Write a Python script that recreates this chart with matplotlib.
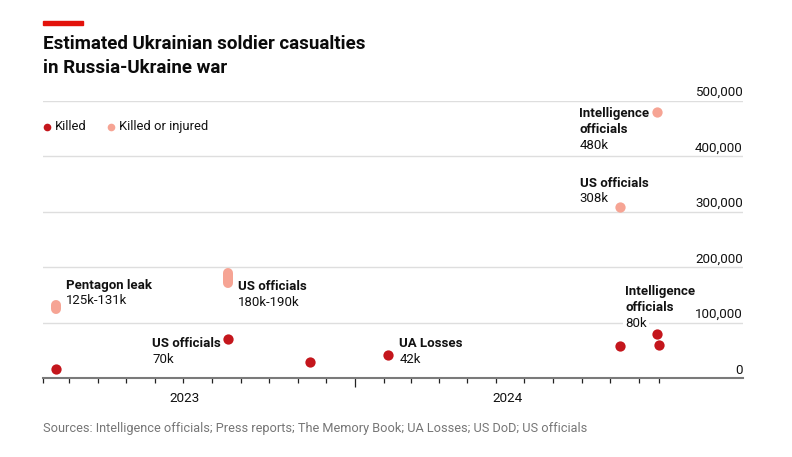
import datetime as dt
import matplotlib
matplotlib.use('Agg')
import matplotlib.pyplot as plt
from matplotlib.lines import Line2D
from matplotlib.patches import Rectangle

plt.rcParams['font.family'] = ['Roboto', 'DejaVu Sans']

#DATA-------------------------------------------------------------------------------
killed_dates = [dt.date(2023, 2, 15), dt.date(2023, 8, 18), dt.date(2023, 11, 14),
                dt.date(2024, 2, 6), dt.date(2024, 10, 11), dt.date(2024, 11, 20),
                dt.date(2024, 11, 22)]
killed_vals = [17000, 70000, 29000, 42000, 57000, 80000, 59000]

# killed or injured: ranges drawn as capsules, single values as dots
ki_range_dates = [dt.date(2023, 2, 15), dt.date(2023, 8, 18)]
ki_range_low = [125000, 171000]
ki_range_high = [131000, 189000]
ki_dates = [dt.date(2024, 10, 11), dt.date(2024, 11, 20)]
ki_vals = [308000, 480000]

y_ticks = [0, 100000, 200000, 300000, 400000, 500000]
year_labels = ['2023', '2024']
year_label_dates = [dt.date(2023, 7, 3), dt.date(2024, 6, 13)]
month_ticks = [dt.date(2023, m, 1) for m in range(2, 13)] + \
              [dt.date(2024, m, 1) for m in range(2, 12)] + [dt.date(2024, 11, 22)]
year_ticks = [dt.date(2024, 1, 1)]

# annotations: (date, value, bold lines, value text, dx px, dy px of first baseline)
notes = [
    (dt.date(2023, 2, 15), 131000, ['Pentagon leak'], '125k-131k', 9.6, 16.5),
    (dt.date(2023, 8, 18), 189000, ['US officials'], '180k-190k', 10, -16.8),
    (dt.date(2023, 8, 18), 70000, ['US officials'], '70k', -75.6, -8.3),
    (dt.date(2024, 2, 6), 42000, ['UA Losses'], '42k', 11.2, 7.3),
    (dt.date(2024, 11, 20), 80000, ['Intelligence', 'officials'], '80k', -31.7, 38.1),
    (dt.date(2024, 11, 20), 480000, ['Intelligence', 'officials'], '480k', -77.4, -5.9),
    (dt.date(2024, 10, 11), 308000, ['US officials'], '308k', -40, 20.4),
]

RED = '#c4161c'
SALMON = '#f6a494'
TXT = '#121212'
W, H = 792, 457

#FIGURE-----------------------------------------------------------------------------
fig = plt.figure(figsize=(W/100, H/100), dpi=100)
ax = fig.add_axes([43/W, 1-378/H, (742.7-43)/W, (378-100.5)/H])
ax.set_xlim(dt.date(2023, 2, 1), dt.date(2025, 2, 20))
ax.set_ylim(0, 500000)

for s in ['top', 'left', 'right']:
    ax.spines[s].set_visible(False)
ax.spines['bottom'].set_color('#7a7a7a')
ax.spines['bottom'].set_linewidth(1.5)
ax.spines['bottom'].set_zorder(5)

for v in y_ticks[1:]:
    ax.axhline(v, color='#dedede', lw=1.0, zorder=0)
for v in y_ticks:
    ax.annotate(f'{v:,}', xy=(1, v), xycoords=('axes fraction', 'data'),
                xytext=(0, 4.5), textcoords='offset pixels', ha='right', va='baseline',
                fontsize=9.6, color=TXT)
ax.set_yticks([])

ax.set_xticks(year_ticks)
ax.set_xticks(month_ticks, minor=True)
ax.tick_params(axis='x', which='major', length=6.5, width=0.9, color='#222222', labelbottom=False)
ax.tick_params(axis='x', which='minor', length=3.6, width=0.9, color='#222222', labelbottom=False)
for lab, d in zip(year_labels, year_label_dates):
    ax.annotate(lab, xy=(d, 0), xycoords=('data', 'axes fraction'), xytext=(0, -20),
                textcoords='offset pixels', ha='center', va='center', fontsize=9.7, color=TXT)

#MARKS------------------------------------------------------------------------------
for d, lo, hi in zip(ki_range_dates, ki_range_low, ki_range_high):
    ax.plot([d, d], [lo, hi], color=SALMON, lw=7.2, solid_capstyle='round', zorder=4)
ax.plot(ki_dates, ki_vals, 'o', color=SALMON, ms=7.4, mec='none', zorder=4, clip_on=False)
ax.plot(killed_dates, killed_vals, 'o', color=RED, ms=7.4, mec='none', zorder=4, clip_on=False)

LS = 15.6
for d, v, bold, val, dx, dy in notes:
    for i, line in enumerate(bold):
        ax.annotate(line, xy=(d, v), xytext=(dx, dy - i*LS), textcoords='offset pixels',
                    ha='left', va='baseline', fontsize=9.5, fontweight='bold', color=TXT, zorder=3)
    ax.annotate(val, xy=(d, v), xytext=(dx, dy - len(bold)*LS), textcoords='offset pixels',
                ha='left', va='baseline', fontsize=9.5, color=TXT, zorder=3,
                bbox=dict(facecolor='white', edgecolor='none', pad=1.5))

#TITLE, LEGEND, SOURCES-------------------------------------------------------------
fig.add_artist(Rectangle((43/W, 1-25/H), 40/W, 4/H, color='#e3120b', transform=fig.transFigure))
fig.text(43/W, 1-49.3/H, 'Estimated Ukrainian soldier casualties', fontsize=13.5,
         fontweight='bold', color='#0b0b0b', va='baseline')
fig.text(43/W, 1-72.7/H, 'in Russia-Ukraine war', fontsize=13.5,
         fontweight='bold', color='#0b0b0b', va='baseline')

fig.add_artist(Line2D([46.7/W], [1-126.5/H], marker='o', ms=5.5, color=RED, mec='none',
                      transform=fig.transFigure))
fig.text(55/W, 1-126.5/H, 'Killed', fontsize=9.4, color=TXT, va='center')
fig.add_artist(Line2D([110.7/W], [1-126.5/H], marker='o', ms=5.5, color=SALMON, mec='none',
                      transform=fig.transFigure))
fig.text(119.3/W, 1-126.5/H, 'Killed or injured', fontsize=9.4, color=TXT, va='center')

fig.text(43/W, 1-432/H, 'Sources: Intelligence officials; Press reports; The Memory Book; '
         'UA Losses; US DoD; US officials', fontsize=9.2, color='#767676', va='baseline')

fig.savefig('out.png', dpi=100)
